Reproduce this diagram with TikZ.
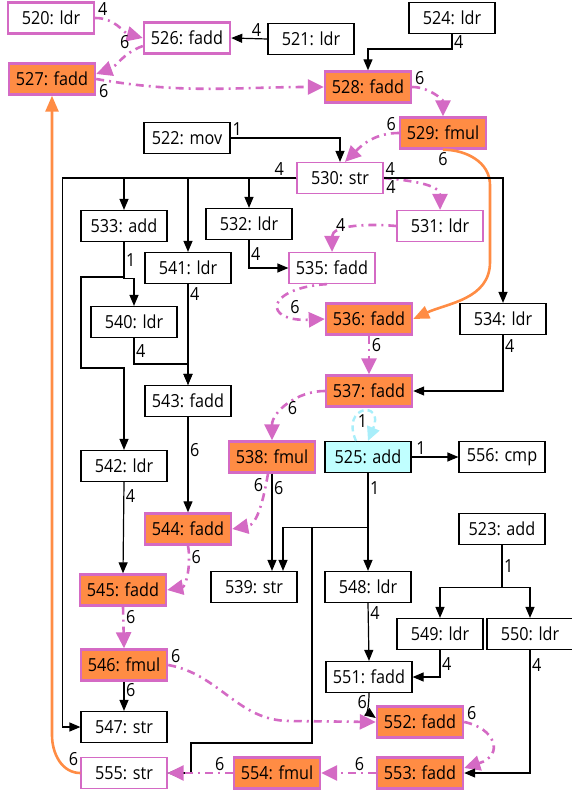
\documentclass[tikz,border=0pt]{standalone}
\usepackage{fontspec}
\setmainfont{Open Sans}[FakeStretch=0.9]
\usetikzlibrary{arrows.meta}

\definecolor{critpink}{RGB}{212,106,196}
\definecolor{hotorange}{RGB}{255,140,68}
\definecolor{loopfill}{RGB}{192,255,255}
\definecolor{loopline}{RGB}{168,238,250}

\tikzset{
	instr/.style={shape=rectangle, draw=black, line width=1.2pt, minimum width=86pt, minimum height=31pt, inner sep=0pt, font=\fontsize{18}{20}\selectfont},
	critthin/.style={instr, draw=critpink},
	critbold/.style={instr, draw=critpink, line width=2.4pt},
	hotinstr/.style={critbold, fill=hotorange},
	loopinstr/.style={instr, fill=loopfill},
	lbl/.style={font=\fontsize{18}{20}\selectfont, inner sep=1.5pt},
	dep/.style={line width=1.2pt, -{Triangle[length=11pt,width=9pt]}},
	crit/.style={draw=critpink, line width=2.6pt, dash pattern=on 8pt off 5pt on 2pt off 5pt, -{Triangle[length=16pt,width=15pt]}},
	back/.style={draw=hotorange, line width=2.6pt, -{Triangle[length=16pt,width=13pt]}},
	loopdep/.style={draw=loopline, line width=2.4pt, dash pattern=on 6pt off 4pt, -{Triangle[length=14pt,width=13pt,fill=loopline]}}
}

\begin{document}
\begin{tikzpicture}[x=1pt, y=1pt, every node/.append style={lbl}]
	\useasboundingbox (0,0) rectangle (571,-794);

	\node[critbold] (n520) at (51,-18) {520: ldr};
	\node[critbold] (n526) at (187,-38) {526: fadd};
	\node[instr] (n521) at (311,-39) {521: ldr};
	\node[instr] (n524) at (452,-18) {524: ldr};
	\node[hotinstr] (n527) at (52,-79) {527: fadd};
	\node[hotinstr] (n528) at (368,-87) {528: fadd};
	\node[hotinstr] (n529) at (443,-133) {529: fmul};
	\node[instr] (n522) at (187,-138) {522: mov};
	\node[critthin] (n530) at (340,-178) {530: str};
	\node[critthin] (n531) at (440,-226) {531: ldr};
	\node[instr] (n533) at (124,-226) {533: add};
	\node[instr] (n532) at (249,-224) {532: ldr};
	\node[instr] (n541) at (188,-268) {541: ldr};
	\node[critthin] (n535) at (332,-268) {535: fadd};
	\node[instr] (n540) at (134,-322) {540: ldr};
	\node[hotinstr] (n536) at (369,-319) {536: fadd};
	\node[instr] (n534) at (503,-319) {534: ldr};
	\node[instr] (n543) at (188,-401) {543: fadd};
	\node[hotinstr] (n537) at (369,-391) {537: fadd};
	\node[hotinstr] (n538) at (272,-457) {538: fmul};
	\node[loopinstr] (n525) at (368,-457) {525: add};
	\node[instr] (n556) at (502,-457) {556: cmp};
	\node[instr] (n542) at (124,-466) {542: ldr};
	\node[hotinstr] (n544) at (188,-529) {544: fadd};
	\node[instr] (n523) at (502,-529) {523: add};
	\node[hotinstr] (n545) at (123,-590) {545: fadd};
	\node[instr] (n539) at (254,-587) {539: str};
	\node[instr] (n548) at (368,-587) {548: ldr};
	\node[instr] (n549) at (440,-634) {549: ldr};
	\node[instr] (n550) at (530,-634) {550: ldr};
	\node[hotinstr] (n546) at (124,-665) {546: fmul};
	\node[instr] (n551) at (369,-677) {551: fadd};
	\node[instr] (n547) at (124,-727) {547: str};
	\node[hotinstr] (n552) at (420,-722) {552: fadd};
	\node[critthin] (n555) at (124,-773) {555: str};
	\node[hotinstr] (n554) at (277,-773) {554: fmul};
	\node[hotinstr] (n553) at (420,-773) {553: fadd};

	% top
	\draw[crit] (n520.east) to[out=0,in=165] node[pos=0, above right] {4} (n526.west);
	\draw[crit] ([yshift=-8pt]n526.west) to[out=200,in=20] node[pos=0.2, above left] {6} ([yshift=5pt]n527.east);
	\draw[dep] (n521.west) -- node[pos=0.3, above] {4} (n526.east);
	\draw[crit] (n527.east) to[out=-10,in=180] node[pos=0, below right, yshift=-3pt] {6} (n528.west);
	\draw[dep] (n524.south) -- node[right] {4} ++(0,-15) -| (n528.north);
	\draw[crit] (n528.east) to[out=0,in=90] node[pos=0, above right] {6} (n529.north);
	\draw[crit] (n529.west) to[out=180,in=45] node[pos=0, above left] {6} ([xshift=5pt]n530.north);
	\draw[dep] (n522.east) -| node[pos=0, above right] {1} (n530.north);
	\draw[back] (n529.south) to[out=0,in=90] node[pos=0, below] {6} (490,-185) -- (490,-262) to[out=-90,in=25] (n536.east);

	% 530
	\draw[crit] (n530.east) to[out=-5,in=90] node[pos=0, below right] {4} (n531.north);
	\draw[dep] (n530.east) -| node[pos=0, above right] {4} (n534.north);
	\draw[dep] (n530.west) -| node[pos=0.05, above] {4} (n533.north);
	\draw[dep] (n530.west) -| (n541.north);
	\draw[dep] (n530.west) -| (n532.north);
	\draw[dep] (n530.west) -| ([xshift=-18pt]n547.west) -- (n547.west);
	\draw[crit] (n531.west) to[out=175,in=90] node[pos=0.7, above] {4} (n535.north);
	\draw[dep] (n532.south) |- node[pos=0.25, right] {4} (n535.west);

	% left column
	\draw[dep] (n533.south) -- node[right] {1} ++(0,-36) -| (n540.north);
	\draw[dep] (n533.south) |- (81,-277) |- (124,-368) -- (n542.north);
	\draw[dep] (n541.south) -- node[pos=0.1, right] {4} (n543.north);
	\draw[dep] (n540.south) |- node[pos=0.25, right] {4} ([yshift=21pt]n543.north) -- (n543.north);
	\draw[crit] ([xshift=-5pt]n535.south) .. controls (265,-288) and (262,-322) .. node[pos=0.8, above] {6} (n536.west);
	\draw[crit] (n536.south) -- node[pos=0.25, right] {6} (n537.north);
	\draw[dep] (n534.south) |- node[pos=0.1, right] {4} (n537.east);
	\draw[crit] (n537.west) to[out=180,in=90] node[pos=0.55, right] {6} (n538.north);

	% 525
	\draw[loopdep] ([xshift=-12pt]n525.north) .. controls (340,-405) and (385,-400) .. node[pos=0.5, below] {1} (n525.north);
	\draw[dep] (n525.east) -- node[pos=0.2, above] {1} (n556.west);
	\draw[dep] (n525.south) -- node[pos=0.15, right] {1} (n548.north);
	\draw[dep] (n525.south) -- ++(0,-54) -| ([xshift=29pt]n539.north);
	\draw[dep] (n525.south) -- ++(0,-54) -| (312,-743) -| (191,-773) -- (n555.east);

	% middle
	\draw[dep] (n538.south) -- node[pos=0.15, right] {6} (n538.south |- n539.north);
	\draw[crit] ([xshift=-4pt]n538.south) to[out=-100,in=10] node[pos=0.15, left] {6} (n544.east);
	\draw[dep] (n543.south) -- node[pos=0.35, right] {6} (n544.north);
	\draw[dep] (n542.south) -- node[pos=0.15, right] {4} (n545.north);
	\draw[crit] (n544.south) to[out=-80,in=10] node[pos=0.2, right] {6} (n545.east);
	\draw[crit] (n545.south) -- node[pos=0.25, right] {6} (n546.north);
	\draw[dep] (n546.south) -- node[pos=0.3, right] {6} (n547.north);
	\draw[crit] (n546.east) to[out=-10,in=180] node[pos=0, above right] {6} (290,-721) -- (n552.west);

	% bottom right
	\draw[dep] (n523.south) -- node[right] {1} ++(0,-42) -| (n549.north);
	\draw[dep] (n523.south) -- ++(0,-42) -| (n550.north);
	\draw[dep] (n548.south) -- node[pos=0.17, right] {4} (n551.north);
	\draw[dep] (n549.south) |- node[pos=0.25, right] {4} (n551.east);
	\draw[dep] (n551.south) to[out=-90,in=145] node[pos=0.3, left] {6} ([yshift=4pt]n552.west);
	\draw[crit] (n552.east) .. controls (495,-728) and (505,-755) .. node[pos=0, above right] {6} ([yshift=5pt]n553.east);
	\draw[dep] (n550.south) |- node[pos=0.06, right] {4} (n553.east);
	\draw[crit] (n553.west) -- node[pos=0.3, above] {6} (n554.east);
	\draw[crit] (n554.west) -- node[pos=0.2, above] {6} (n555.east);
	\draw[back] (n555.west) to[out=180,in=-90] node[pos=0.3, above right] {6} (52,-735) -- (n527.south);
\end{tikzpicture}
\end{document}
